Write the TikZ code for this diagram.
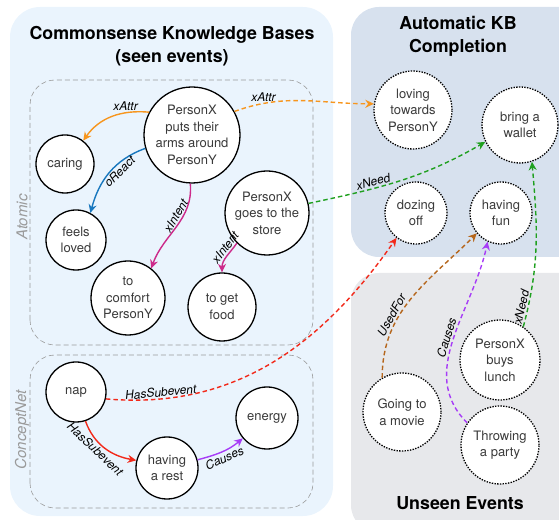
\documentclass[tikz,border=0pt]{standalone}
\usepackage{fontspec}
\setmainfont{TeX Gyre Heros}
\usetikzlibrary{arrows.meta}

\definecolor{kbblue}{HTML}{EAF4FD}
\definecolor{compblue}{HTML}{D7E1EE}
\definecolor{unseengrey}{HTML}{E7E8EB}
\definecolor{nodetext}{HTML}{3A3A3A}
\definecolor{boxgrey}{HTML}{9A9A9A}
\definecolor{attrorange}{HTML}{F7961E}
\definecolor{reactblue}{HTML}{1877BE}
\definecolor{intentpink}{HTML}{CC2A8A}
\definecolor{needgreen}{HTML}{1FA01F}
\definecolor{subred}{HTML}{F2291A}
\definecolor{causepurple}{HTML}{A73CF7}
\definecolor{usedbrown}{HTML}{B5661C}

\begin{document}
\begin{tikzpicture}[x=1pt,y=1pt,
    seen/.style={draw, circle, line width=1.3pt, fill=white, inner sep=0pt, align=center,
        text=nodetext, font=\fontsize{13}{16.5}\selectfont},
    unseen/.style={seen, dash pattern=on 1.4pt off 1.3pt},
    rel/.style={line width=1.4pt, -{Stealth[length=8.5pt,width=8pt]}},
    guess/.style={rel, dash pattern=on 4.5pt off 3pt},
    lbl/.style={font=\itshape\fontsize{12}{14}\selectfont, text=black, inner sep=1.5pt},
    title/.style={font=\bfseries\fontsize{17.8}{23}\selectfont, align=center},
    kbbox/.style={draw=boxgrey, line width=0.6pt, dash pattern=on 5pt off 3pt, rounded corners=25pt},
    kbname/.style={font=\itshape\fontsize{15}{18}\selectfont, text=boxgrey, rotate=90}]

    \useasboundingbox (0,0) rectangle (559,519);

    % panels
    \fill[kbblue, rounded corners=30pt] (10,3) rectangle (333,512);
    \fill[compblue, rounded corners=28pt] (351,262) rectangle (590,512);
    \fill[unseengrey, rounded corners=28pt] (351,-14) rectangle (590,246);

    \node (kbtitle) [title] at (172,473) {Commonsense Knowledge Bases\\(seen events)};
    \node (comptitle) [title] at (458,483) {Automatic KB\\Completion};
    \node (unseentitle) [title] at (460,16) {Unseen Events};

    \draw[kbbox] (30,174) rectangle (313,439);
    \draw[kbbox] (30,11) rectangle (313,164);
    \node (atomic) [kbname] at (22,302) {Atomic};
    \node (conceptnet) [kbname] at (22,89) {ConceptNet};

    % seen events
    \node (arms) [seen, minimum size=96pt] at (192,384) {PersonX\\puts their\\arms around\\PersonY};
    \node (caring) [seen, minimum size=58pt] at (65,355) {caring};
    \node (loved) [seen, minimum size=60pt] at (76,279) {feels\\loved};
    \node (store) [seen, minimum size=84pt] at (267,306) {PersonX\\goes to the\\store};
    \node (comfort) [seen, minimum size=74pt] at (128,221) {to\\comfort\\PersonY};
    \node (food) [seen, minimum size=68pt] at (222,212) {to get\\food};
    \node (nap) [seen, minimum size=60pt] at (76,127) {nap};
    \node (rest) [seen, minimum size=62pt] at (167,51) {having\\a rest};
    \node (energy) [seen, minimum size=62pt] at (267,101) {energy};

    % completed and unseen events
    \node (loving) [unseen, minimum size=78pt] at (413,409) {loving\\towards\\PersonY};
    \node (wallet) [unseen, minimum size=76pt] at (520,394) {bring a\\wallet};
    \node (dozing) [unseen, minimum size=62pt] at (416,306) {dozing\\off};
    \node (fun) [unseen, minimum size=62pt] at (501,306) {having\\fun};
    \node (lunch) [unseen, minimum size=80pt] at (500,159) {PersonX\\buys\\lunch};
    \node (movie) [unseen, minimum size=78pt] at (402,107) {Going to\\a movie};
    \node (party) [unseen, minimum size=78pt] at (500,74) {Throwing\\a party};

    % relations inside the knowledge bases
    \draw[rel, attrorange] (arms.152) to[out=175, in=55] node[lbl, above, pos=0.3] {xAttr} (caring.52);
    \draw[rel, reactblue] (arms.196) to[out=200, in=75] node[lbl, sloped, below, pos=0.4] {oReact} (loved.62);
    \draw[rel, intentpink] (arms.268) to[out=-85, in=70] node[lbl, sloped, above, pos=0.4] {xIntent} (comfort.52);
    \draw[rel, intentpink] (store.225) to[out=235, in=90] node[lbl, sloped, above, pos=0.3] {xIntent} (food.90);
    \draw[rel, subred] (nap.-72) to[out=-70, in=170] node[lbl, sloped, below, pos=0.4] {HasSubevent} (rest.166);
    \draw[rel, causepurple] (rest.15) to[out=15, in=220] node[lbl, sloped, below, pos=0.5] {Causes} (energy.220);

    % relations to the completed events
    \draw[guess, attrorange] (arms.29) to[out=20, in=180] node[lbl, above, pos=0.2] {xAttr} (loving.171);
    \draw[guess, needgreen] (store.13) to[out=12, in=210] node[lbl, sloped, above, pos=0.35] {xNeed} (wallet.206);
    \draw[guess, subred] (nap.-13) to[out=-5, in=235] node[lbl, sloped, above, pos=0.15] {HasSubevent} (dozing.232);
    \draw[guess, usedbrown] (movie.120) to[out=90, in=225] node[lbl, sloped, above, pos=0.35] {UsedFor} (fun.220);
    \draw[guess, causepurple] (party.146) to[out=135, in=258] node[lbl, sloped, above, pos=0.5] {Causes} (fun.245);
    \draw[guess, needgreen] (lunch.55) to[out=75, in=-85] node[lbl, sloped, above, pos=0.1] {xNeed} (wallet.288);

\end{tikzpicture}
\end{document}
